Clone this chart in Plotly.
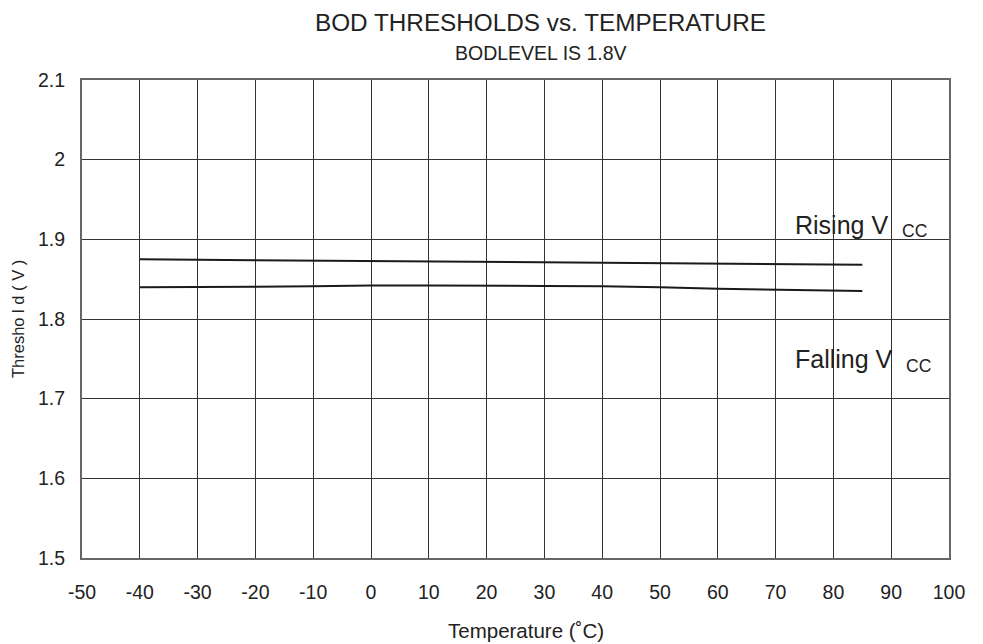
import plotly.graph_objects as go

temp = [-40, -30, -20, -10, 0, 10, 20, 30, 40, 50, 60, 70, 85]
rising = [1.875, 1.8745, 1.874, 1.8735, 1.873, 1.8725, 1.872, 1.8715, 1.871, 1.8705, 1.870, 1.869, 1.868]
falling = [1.840, 1.840, 1.8405, 1.841, 1.842, 1.842, 1.842, 1.8415, 1.841, 1.840, 1.838, 1.837, 1.835]

x_ticks = list(range(-50, 101, 10))
x_tick_labels = [str(v) for v in x_ticks]
y_ticks = [1.5, 1.6, 1.7, 1.8, 1.9, 2.0, 2.1]
y_tick_labels = ["1.5", "1.6", "1.7", "1.8", "1.9", "2", "2.1"]

font = "Liberation Sans, Arial, sans-serif"

fig = go.Figure()
fig.add_trace(go.Scatter(x=temp, y=rising, mode="lines", line=dict(color="#1a1a1a", width=2), showlegend=False))
fig.add_trace(go.Scatter(x=temp, y=falling, mode="lines", line=dict(color="#1a1a1a", width=2), showlegend=False))

fig.update_layout(
    width=983, height=644,
    margin=dict(l=74, r=42, t=72, b=94),
    paper_bgcolor="white", plot_bgcolor="white",
    font=dict(family=font, color="#222", size=19),
    annotations=[
        dict(text="BOD THRESHOLDS vs. TEMPERATURE", xref="paper", yref="paper", x=0.529, y=1, yshift=58,
             showarrow=False, font=dict(size=24.3), xanchor="center", yanchor="middle"),
        dict(text="BODLEVEL IS 1.8V", xref="paper", yref="paper", x=0.529, y=1, yshift=27,
             showarrow=False, font=dict(size=19.5), xanchor="center", yanchor="middle"),
        dict(text="Rising V", x=73, y=1.918, xanchor="left", yanchor="middle",
             showarrow=False, font=dict(size=25)),
        dict(text="CC", x=91.5, y=1.910, xanchor="left", yanchor="middle",
             showarrow=False, font=dict(size=17.5)),
        dict(text="Falling V", x=73, y=1.750, xanchor="left", yanchor="middle",
             showarrow=False, font=dict(size=25)),
        dict(text="CC", x=92.2, y=1.741, xanchor="left", yanchor="middle",
             showarrow=False, font=dict(size=17.5)),
        dict(text="Temperature (˚C)", xref="paper", yref="paper", x=0.512, y=0, yshift=-72,
             showarrow=False, font=dict(size=20.5), xanchor="center", yanchor="middle"),
        dict(text="Thresho l d ( V )", xref="paper", yref="paper", x=0, xshift=-64, y=0.5,
             textangle=-90, showarrow=False, font=dict(size=16.5), xanchor="center", yanchor="middle"),
    ],
    xaxis=dict(range=[-50, 100], tickvals=x_ticks, ticktext=x_tick_labels, showgrid=True, gridcolor="#333",
               gridwidth=1, showline=True, linecolor="#666", linewidth=2, mirror=True, zeroline=False,
               ticks="", ticklabelstandoff=16, tickfont=dict(size=19.5)),
    yaxis=dict(range=[1.5, 2.1], tickvals=y_ticks, ticktext=y_tick_labels, showgrid=True, gridcolor="#333",
               gridwidth=1, showline=True, linecolor="#666", linewidth=2, mirror=True, zeroline=False,
               ticks="", ticklabelstandoff=11, tickfont=dict(size=19.5)),
)

fig.write_html("out.html")
